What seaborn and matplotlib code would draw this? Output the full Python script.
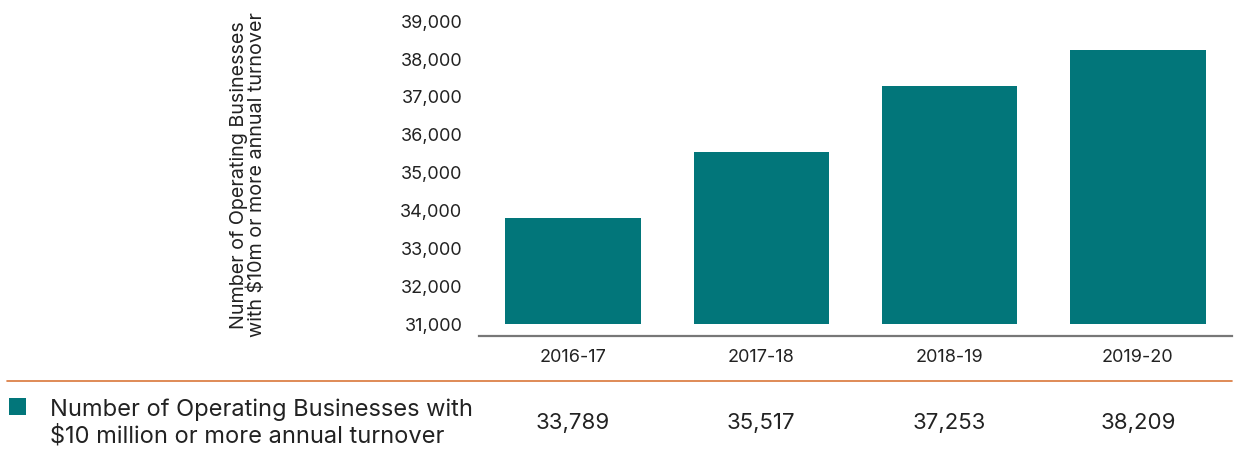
import matplotlib
matplotlib.use("Agg")
import matplotlib.pyplot as plt
import matplotlib.ticker as mticker
import matplotlib.transforms as mtransforms
import pandas as pd
import seaborn as sns

# Financial years and count of operating businesses with $10m+ turnover
years = ["2016-17", "2017-18", "2018-19", "2019-20"]
businesses = [33789, 35517, 37253, 38209]
y_ticks = [31000, 32000, 33000, 34000, 35000, 36000, 37000, 38000, 39000]
baseline = 31000

series_label = "Number of Operating Businesses with\n$10 million or more annual turnover"
axis_label = "Number of Operating Businesses\nwith $10m or more annual turnover"

TEAL = "#02767a"
ORANGE = "#d9773a"
TEXT = "#222222"

sns.set_theme(style="white")
plt.rcParams["font.family"] = ["Inter", "DejaVu Sans"]

df = pd.DataFrame({
    "year": years,
    "value": businesses,
})
df["above_base"] = df["value"] - baseline

fig = plt.figure(figsize=(12.35, 4.6), dpi=100)
ax = fig.add_axes([479 / 1235, 1 - 337 / 460, (1232 - 479) / 1235, (337 - 15) / 460])

sns.barplot(data=df, x="year", y="above_base", bottom=baseline, color=TEAL,
            saturation=1, width=0.72, ax=ax, linewidth=0)

ax.set_xlim(-0.5, len(years) - 0.5)
ax.set_ylim(30675, 39160)
ax.set_yticks(y_ticks)
ax.yaxis.set_major_formatter(mticker.FuncFormatter(lambda v, _: f"{int(v):,}"))
ax.tick_params(axis="y", length=0, pad=12, labelsize=13, labelcolor=TEXT)
ax.tick_params(axis="x", length=0, pad=9, labelsize=13, labelcolor=TEXT)
ax.set_xlabel("")
ax.set_ylabel("")

for side in ("top", "right", "left"):
    ax.spines[side].set_visible(False)
ax.spines["bottom"].set_color("#777777")
ax.spines["bottom"].set_linewidth(1.6)

# rotated axis title
fig.text(248 / 1235, 1 - 175 / 460, axis_label, rotation=90, ha="center", va="center",
         multialignment="center", fontsize=14.2, color=TEXT, linespacing=1.0)

# data table row beneath the chart
fig.add_artist(plt.Line2D([7 / 1235, 1232 / 1235], [1 - 381.5 / 460] * 2,
                          transform=fig.transFigure, color=ORANGE, linewidth=1.2))
fig.add_artist(plt.Rectangle((9 / 1235, 1 - 416 / 460), 17 / 1235, 17 / 460,
                             transform=fig.transFigure, color=TEAL, linewidth=0))
fig.text(50 / 1235, 1 - 423 / 460, series_label, ha="left", va="center",
         fontsize=17, color=TEXT, linespacing=1.2)

value_trans = mtransforms.blended_transform_factory(ax.transData, fig.transFigure)
for i, v in enumerate(businesses):
    ax.text(i, 1 - 423 / 460, f"{v:,}", transform=value_trans,
            ha="center", va="center", fontsize=16, color=TEXT)

fig.savefig("out.png", dpi=100)
